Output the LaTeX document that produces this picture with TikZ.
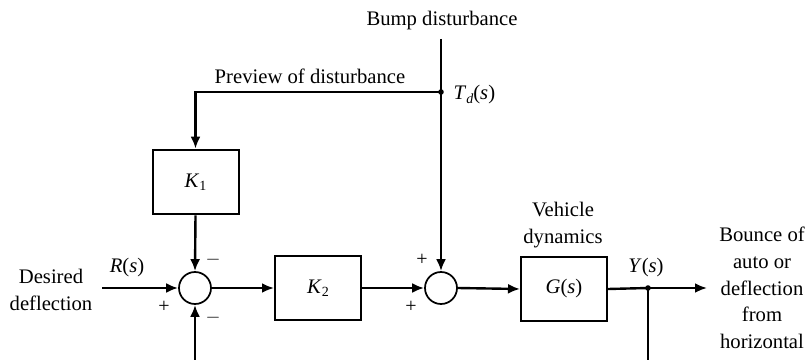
\documentclass[tikz,border=0pt]{standalone}
\usepackage{fontspec}
\setmainfont{Liberation Serif}
\usetikzlibrary{arrows.meta}
\newcommand{\lowsub}[1]{\raisebox{-0.35ex}{\fontsize{10.5}{11}\selectfont #1}}
\begin{document}
\begin{tikzpicture}[x=0.75pt,y=-0.75pt,
  every node/.style={font=\fontsize{15.5}{20}\selectfont},
  blk/.style={draw,line width=1.5pt,minimum width=64.5pt,minimum height=48.5pt,inner sep=0pt},
  sumnode/.style={draw,circle,line width=1.3pt,minimum size=24pt,inner sep=0pt},
  arr/.style={line width=1.8pt,-{Latex[length=9pt,width=7.5pt]}},
  ln/.style={line width=1.8pt},
  lbl/.style={inner sep=1pt},
  sign/.style={inner sep=0pt,font=\fontsize{15}{15}\selectfont}]
\useasboundingbox (0,0) rectangle (810,360);
\clip (0,0) rectangle (810,360);
% blocks
\node[sumnode] (s1) at (195,288) {};
\node[sumnode] (s2) at (441,288) {};
\node[blk] (K1) at (195.5,182) {\textit{K}\lowsub{1}};
\node[blk] (K2) at (318,288) {\textit{K}\lowsub{2}};
\node[blk] (G) at (564,289) {\textit{G}(\textit{s})};
% coordinates
\coordinate (top) at (441,39);
\coordinate (td) at (441,92);
\coordinate (in) at (102,288);
\coordinate (yj) at (648,288);
\coordinate (out) at (707,288);
\coordinate (fb) at (648,378);
% connectors
\draw[arr] (top) -- (s2.north);
\draw[arr] (td) -| (K1.north);
\draw[arr] (K1.south) -- (s1.north);
\draw[arr] (in) -- (s1.west);
\draw[arr] (s1.east) -- (K2.west);
\draw[arr] (K2.east) -- (s2.west);
\draw[arr] (s2.east) -- (G.west);
\draw[ln] (G.east) -- (yj);
\draw[arr] (yj) -- (out);
\draw[arr] (yj) -- (fb) -| (s1.south);
\fill (td) circle (2.8);
\fill (yj) circle (2.8);
% labels
\node[lbl] (bump) at (442,21) {Bump disturbance};
\node[lbl] (prev) at (310,76) {Preview of disturbance};
\node[lbl,anchor=west] (tdl) at (452,95) {\textit{T}\lowsub{\textit{d}}(\textit{s})};
\node[lbl,align=center] (veh) at (563,225) {Vehicle\\dynamics};
\node[lbl] (ys) at (646,268) {\textit{Y}(\textit{s})};
\node[lbl] (rs) at (127,268) {\textit{R}(\textit{s})};
\node[lbl,align=center] (des) at (51,290) {Desired\\deflection};
\node[lbl,align=center] (bounce) at (762,288) {Bounce of\\auto or\\deflection\\from\\horizontal};
\node[sign] (m1) at (213,260) {$-$};
\node[sign] (m2) at (213,318) {$-$};
\node[sign] (p1) at (164,307) {+};
\node[sign] (p2) at (422,260) {+};
\node[sign] (p3) at (411,307) {+};
\end{tikzpicture}
\end{document}
